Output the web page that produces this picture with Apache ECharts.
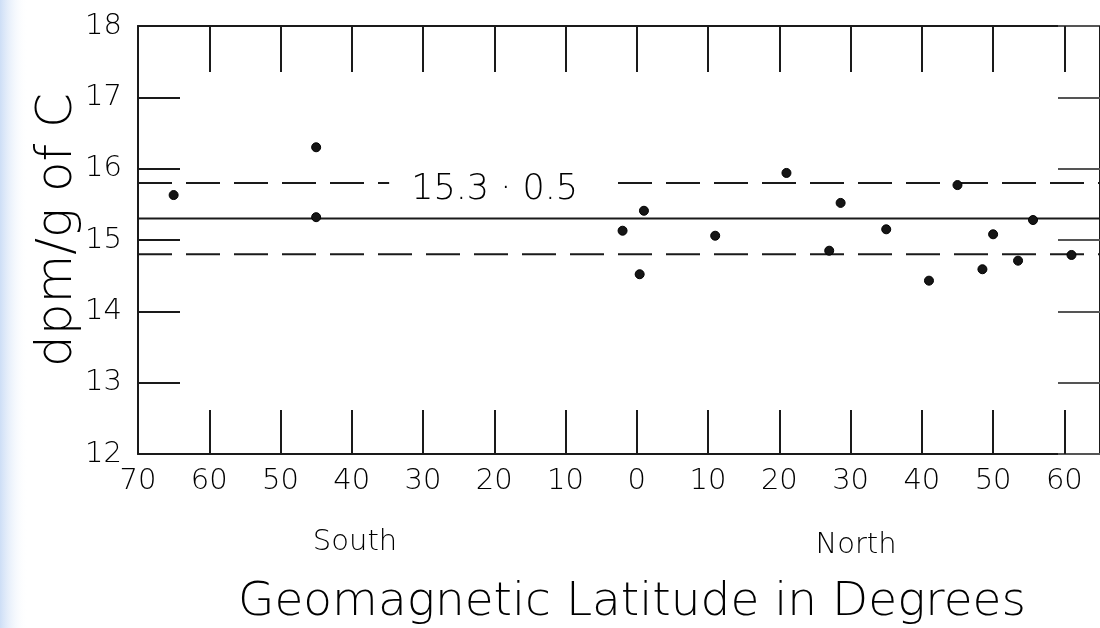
<!DOCTYPE html>
<html>
<head>
<meta charset="utf-8">
<script src="https://cdn.jsdelivr.net/npm/echarts@6/dist/echarts.min.js"></script>
<style>
html,body{margin:0;padding:0;background:#fff;}
#main{width:1100px;height:628px;}
</style>
</head>
<body>
<div id="main"></div>
<script>
// Geomagnetic latitude (negative = South, positive = North), degrees
const latitudes = [-65, -45, -45, -2, 1, 0.4, 11, 21, 27, 28.6, 35, 41, 45, 48.5, 50, 53.5, 55.6, 61];
// Specific activity, dpm/g of C
const activity = [15.63, 16.30, 15.32, 15.13, 15.41, 14.52, 15.06, 15.94, 14.85, 15.52, 15.15, 14.43, 15.77, 14.59, 15.08, 14.71, 15.28, 14.79];
// Mean and +/- band
const meanValue = 15.3;
const upperBand = 15.8;
const lowerBand = 14.8;
const annotationText = '15.3 · 0.5';
const annotationAt = [-19.6, 15.7];
const xMin = -70, xMax = 65, xStep = 10;
const yMin = 12, yMax = 18, yStep = 1;
const xTitle = 'Geomagnetic Latitude in Degrees';
const yTitle = 'dpm/g of C';
const southLabel = 'South';
const northLabel = 'North';

const FONT = '"DejaVu Sans", sans-serif';
const INK = '#1a1a1a';
const TXT = '#000000';
const W = 300;

const chart = echarts.init(document.getElementById('main'), null, {renderer: 'canvas'});

function hline(v) { return [[xMin, v], [xMax, v]]; }

const axisCommon = {
  axisLine: {show: true, onZero: false, lineStyle: {color: INK, width: 2}},
  splitLine: {show: false}
};

chart.setOption({
  backgroundColor: '#ffffff',
  animation: false,
  grid: {left: 138, top: 26, right: -7, bottom: 174, containLabel: false},
  xAxis: [
    Object.assign({}, axisCommon, {
      type: 'value', min: xMin, max: xMax, interval: xStep, position: 'bottom',
      axisTick: {show: true, inside: true, length: 44, lineStyle: {color: INK, width: 2}},
      axisLabel: {show: true, margin: 13, fontFamily: FONT, fontWeight: W, fontSize: 29, color: TXT,
        showMaxLabel: false,
        formatter: v => String(Math.abs(v))}
    }),
    Object.assign({}, axisCommon, {
      type: 'value', min: xMin, max: xMax, interval: xStep, position: 'top',
      axisTick: {show: true, inside: true, length: 46, lineStyle: {color: INK, width: 2}},
      axisLabel: {show: false}
    })
  ],
  yAxis: [
    Object.assign({}, axisCommon, {
      type: 'value', min: yMin, max: yMax, interval: yStep, position: 'left',
      axisTick: {show: true, inside: true, length: 42, lineStyle: {color: INK, width: 2}},
      axisLabel: {show: true, margin: 16, fontFamily: FONT, fontWeight: W, fontSize: 29, color: TXT}
    }),
    Object.assign({}, axisCommon, {
      type: 'value', min: yMin, max: yMax, interval: yStep, position: 'right',
      axisTick: {show: true, inside: true, length: 42, lineStyle: {color: '#555', width: 2}},
      axisLabel: {show: false}
    })
  ],
  series: [
    {
      type: 'line', name: 'mean', data: hline(meanValue), symbol: 'none', silent: true,
      lineStyle: {color: INK, width: 2, type: 'solid'}, z: 2
    },
    {
      type: 'line', name: 'upper', data: hline(upperBand), symbol: 'none', silent: true,
      lineStyle: {color: INK, width: 2, type: [34, 14]}, z: 2,
      markPoint: {
        symbol: 'rect', symbolSize: 1, itemStyle: {color: 'rgba(0,0,0,0)'},
        data: [{coord: annotationAt, value: annotationText}],
        label: {show: true, position: 'inside', formatter: annotationText,
          fontFamily: FONT, fontWeight: W, fontSize: 35, color: TXT,
          backgroundColor: '#ffffff', padding: [4, 27, 2, 22]}
      }
    },
    {
      type: 'line', name: 'lower', data: hline(lowerBand), symbol: 'none', silent: true,
      lineStyle: {color: INK, width: 2, type: [34, 14]}, z: 2
    },
    {
      type: 'scatter', name: 'samples',
      data: latitudes.map((x, i) => [x, activity[i]]),
      symbol: 'circle', symbolSize: 9,
      itemStyle: {color: '#151515', opacity: 1, borderColor: '#000', borderWidth: 1}, z: 5
    }
  ],
  graphic: [
    {type: 'rect', left: 0, top: 0, z: -10, silent: true,
      shape: {width: 28, height: 628},
      style: {fill: new echarts.graphic.LinearGradient(0, 0, 1, 0, [
        {offset: 0, color: 'rgba(205,222,246,1)'},
        {offset: 1, color: 'rgba(255,255,255,0)'}
      ])}},
    {type: 'text', silent: true, x: 58, y: 230, rotation: Math.PI / 2,
      style: {text: yTitle, fontFamily: FONT, fontWeight: W, fontSize: 50, fill: TXT,
        align: 'center', verticalAlign: 'middle'}},
    {type: 'text', silent: true, x: 355, y: 542,
      style: {text: southLabel, fontFamily: FONT, fontWeight: W, fontSize: 29, fill: TXT,
        align: 'center', verticalAlign: 'middle'}},
    {type: 'text', silent: true, x: 856, y: 545,
      style: {text: northLabel, fontFamily: FONT, fontWeight: W, fontSize: 29, fill: TXT,
        align: 'center', verticalAlign: 'middle'}},
    {type: 'text', silent: true, x: 632, y: 603,
      style: {text: xTitle, fontFamily: FONT, fontWeight: W, fontSize: 47, fill: TXT,
        align: 'center', verticalAlign: 'middle'}}
  ]
});
</script>
</body>
</html>
